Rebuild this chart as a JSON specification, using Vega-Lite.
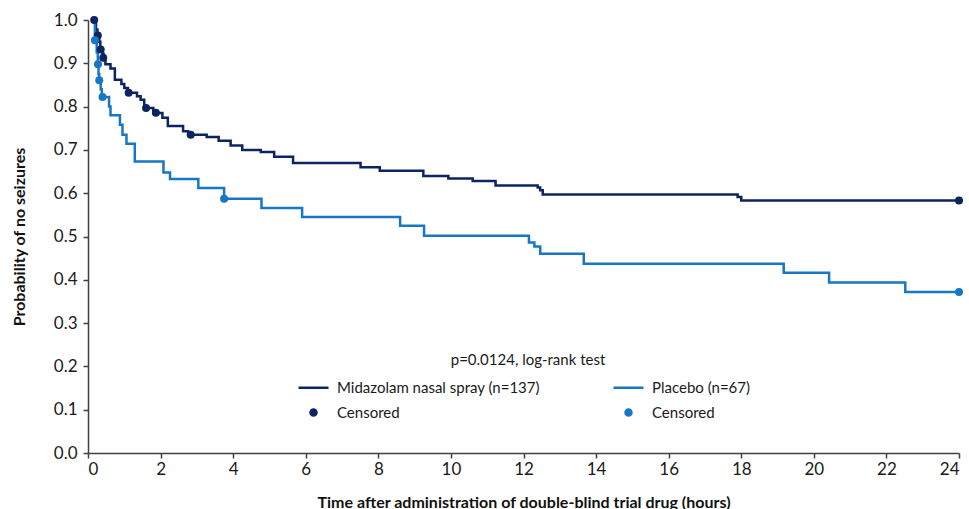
{
  "$schema": "https://vega.github.io/schema/vega-lite/v6.json",
  "width": 871,
  "height": 433,
  "autosize": "none",
  "padding": {"left": 88, "top": 20, "right": 10, "bottom": 56},
  "background": "white",
  "config": {
    "font": "Lato",
    "view": {"stroke": null},
    "axis": {"grid": false, "domainColor": "#404040", "domainWidth": 1.5, "tickColor": "#404040", "tickWidth": 1.5, "tickSize": 5, "labelFont": "Lato", "labelFontSize": 17, "labelColor": "#1a1a1a", "titleFont": "Lato", "titleFontSize": 16, "titleFontWeight": "bold", "titleColor": "#111111"}
  },
  "data": {"values": [
    {"key": "Midazolam nasal spray (n=137)", "kind": "step", "t": 0.15, "s": 1.0},
    {"key": "Midazolam nasal spray (n=137)", "kind": "step", "t": 0.22, "s": 0.978},
    {"key": "Midazolam nasal spray (n=137)", "kind": "step", "t": 0.26, "s": 0.964},
    {"key": "Midazolam nasal spray (n=137)", "kind": "step", "t": 0.31, "s": 0.95},
    {"key": "Midazolam nasal spray (n=137)", "kind": "step", "t": 0.34, "s": 0.934},
    {"key": "Midazolam nasal spray (n=137)", "kind": "step", "t": 0.4, "s": 0.922},
    {"key": "Midazolam nasal spray (n=137)", "kind": "step", "t": 0.43, "s": 0.912},
    {"key": "Midazolam nasal spray (n=137)", "kind": "step", "t": 0.48, "s": 0.898},
    {"key": "Midazolam nasal spray (n=137)", "kind": "step", "t": 0.62, "s": 0.888},
    {"key": "Midazolam nasal spray (n=137)", "kind": "step", "t": 0.74, "s": 0.862},
    {"key": "Midazolam nasal spray (n=137)", "kind": "step", "t": 0.92, "s": 0.852},
    {"key": "Midazolam nasal spray (n=137)", "kind": "step", "t": 1.0, "s": 0.843},
    {"key": "Midazolam nasal spray (n=137)", "kind": "step", "t": 1.1, "s": 0.832},
    {"key": "Midazolam nasal spray (n=137)", "kind": "step", "t": 1.35, "s": 0.824},
    {"key": "Midazolam nasal spray (n=137)", "kind": "step", "t": 1.45, "s": 0.816},
    {"key": "Midazolam nasal spray (n=137)", "kind": "step", "t": 1.55, "s": 0.797},
    {"key": "Midazolam nasal spray (n=137)", "kind": "step", "t": 1.8, "s": 0.785},
    {"key": "Midazolam nasal spray (n=137)", "kind": "step", "t": 2.05, "s": 0.774},
    {"key": "Midazolam nasal spray (n=137)", "kind": "step", "t": 2.2, "s": 0.755},
    {"key": "Midazolam nasal spray (n=137)", "kind": "step", "t": 2.62, "s": 0.743},
    {"key": "Midazolam nasal spray (n=137)", "kind": "step", "t": 2.76, "s": 0.735},
    {"key": "Midazolam nasal spray (n=137)", "kind": "step", "t": 3.27, "s": 0.73},
    {"key": "Midazolam nasal spray (n=137)", "kind": "step", "t": 3.6, "s": 0.721},
    {"key": "Midazolam nasal spray (n=137)", "kind": "step", "t": 3.93, "s": 0.71},
    {"key": "Midazolam nasal spray (n=137)", "kind": "step", "t": 4.25, "s": 0.7},
    {"key": "Midazolam nasal spray (n=137)", "kind": "step", "t": 4.76, "s": 0.695},
    {"key": "Midazolam nasal spray (n=137)", "kind": "step", "t": 5.13, "s": 0.684},
    {"key": "Midazolam nasal spray (n=137)", "kind": "step", "t": 5.65, "s": 0.67},
    {"key": "Midazolam nasal spray (n=137)", "kind": "step", "t": 7.51, "s": 0.66},
    {"key": "Midazolam nasal spray (n=137)", "kind": "step", "t": 8.04, "s": 0.652},
    {"key": "Midazolam nasal spray (n=137)", "kind": "step", "t": 9.24, "s": 0.64},
    {"key": "Midazolam nasal spray (n=137)", "kind": "step", "t": 9.93, "s": 0.634},
    {"key": "Midazolam nasal spray (n=137)", "kind": "step", "t": 10.6, "s": 0.628},
    {"key": "Midazolam nasal spray (n=137)", "kind": "step", "t": 11.23, "s": 0.618},
    {"key": "Midazolam nasal spray (n=137)", "kind": "step", "t": 12.39, "s": 0.613},
    {"key": "Midazolam nasal spray (n=137)", "kind": "step", "t": 12.46, "s": 0.607},
    {"key": "Midazolam nasal spray (n=137)", "kind": "step", "t": 12.53, "s": 0.597},
    {"key": "Midazolam nasal spray (n=137)", "kind": "step", "t": 17.9, "s": 0.591},
    {"key": "Midazolam nasal spray (n=137)", "kind": "step", "t": 18.0, "s": 0.583},
    {"key": "Midazolam nasal spray (n=137)", "kind": "step", "t": 24.0, "s": 0.583},
    {"key": "Placebo (n=67)", "kind": "step", "t": 0.15, "s": 1.0},
    {"key": "Placebo (n=67)", "kind": "step", "t": 0.19, "s": 0.953},
    {"key": "Placebo (n=67)", "kind": "step", "t": 0.24, "s": 0.925},
    {"key": "Placebo (n=67)", "kind": "step", "t": 0.27, "s": 0.898},
    {"key": "Placebo (n=67)", "kind": "step", "t": 0.29, "s": 0.875},
    {"key": "Placebo (n=67)", "kind": "step", "t": 0.31, "s": 0.861},
    {"key": "Placebo (n=67)", "kind": "step", "t": 0.35, "s": 0.84},
    {"key": "Placebo (n=67)", "kind": "step", "t": 0.38, "s": 0.822},
    {"key": "Placebo (n=67)", "kind": "step", "t": 0.58, "s": 0.8},
    {"key": "Placebo (n=67)", "kind": "step", "t": 0.62, "s": 0.78},
    {"key": "Placebo (n=67)", "kind": "step", "t": 0.88, "s": 0.758},
    {"key": "Placebo (n=67)", "kind": "step", "t": 0.95, "s": 0.735},
    {"key": "Placebo (n=67)", "kind": "step", "t": 1.06, "s": 0.714},
    {"key": "Placebo (n=67)", "kind": "step", "t": 1.29, "s": 0.673},
    {"key": "Placebo (n=67)", "kind": "step", "t": 2.08, "s": 0.648},
    {"key": "Placebo (n=67)", "kind": "step", "t": 2.26, "s": 0.633},
    {"key": "Placebo (n=67)", "kind": "step", "t": 3.04, "s": 0.612},
    {"key": "Placebo (n=67)", "kind": "step", "t": 3.75, "s": 0.587},
    {"key": "Placebo (n=67)", "kind": "step", "t": 4.78, "s": 0.566},
    {"key": "Placebo (n=67)", "kind": "step", "t": 5.9, "s": 0.545},
    {"key": "Placebo (n=67)", "kind": "step", "t": 8.6, "s": 0.525},
    {"key": "Placebo (n=67)", "kind": "step", "t": 9.26, "s": 0.502},
    {"key": "Placebo (n=67)", "kind": "step", "t": 12.15, "s": 0.486},
    {"key": "Placebo (n=67)", "kind": "step", "t": 12.3, "s": 0.477},
    {"key": "Placebo (n=67)", "kind": "step", "t": 12.46, "s": 0.46},
    {"key": "Placebo (n=67)", "kind": "step", "t": 13.66, "s": 0.437},
    {"key": "Placebo (n=67)", "kind": "step", "t": 19.17, "s": 0.416},
    {"key": "Placebo (n=67)", "kind": "step", "t": 20.42, "s": 0.394},
    {"key": "Placebo (n=67)", "kind": "step", "t": 22.52, "s": 0.372},
    {"key": "Placebo (n=67)", "kind": "step", "t": 24.0, "s": 0.372},
    {"key": "Censored (Midazolam)", "kind": "censor", "t": 0.17, "s": 1.0},
    {"key": "Censored (Midazolam)", "kind": "censor", "t": 0.27, "s": 0.964},
    {"key": "Censored (Midazolam)", "kind": "censor", "t": 0.35, "s": 0.932},
    {"key": "Censored (Midazolam)", "kind": "censor", "t": 0.42, "s": 0.913},
    {"key": "Censored (Midazolam)", "kind": "censor", "t": 1.12, "s": 0.832},
    {"key": "Censored (Midazolam)", "kind": "censor", "t": 1.6, "s": 0.797},
    {"key": "Censored (Midazolam)", "kind": "censor", "t": 1.87, "s": 0.786},
    {"key": "Censored (Midazolam)", "kind": "censor", "t": 2.83, "s": 0.735},
    {"key": "Censored (Midazolam)", "kind": "censor", "t": 24.0, "s": 0.583},
    {"key": "Censored (Placebo)", "kind": "censor", "t": 0.19, "s": 0.953},
    {"key": "Censored (Placebo)", "kind": "censor", "t": 0.275, "s": 0.898},
    {"key": "Censored (Placebo)", "kind": "censor", "t": 0.31, "s": 0.861},
    {"key": "Censored (Placebo)", "kind": "censor", "t": 0.4, "s": 0.822},
    {"key": "Censored (Placebo)", "kind": "censor", "t": 3.75, "s": 0.587},
    {"key": "Censored (Placebo)", "kind": "censor", "t": 24.0, "s": 0.372}
  ]},
  "encoding": {
    "x": {"field": "t", "type": "quantitative", "scale": {"domain": [0, 24], "nice": false, "zero": true}, "axis": {"values": [0,2,4,6,8,10,12,14,16,18,20,22,24], "title": "Time after administration of double-blind trial drug (hours)", "labelPadding": 3, "titlePadding": 17}},
    "y": {"field": "s", "type": "quantitative", "scale": {"domain": [0, 1], "nice": false}, "axis": {"values": [0,0.1,0.2,0.3,0.4,0.5,0.6,0.7,0.8,0.9,1.0], "format": ".1f", "title": "Probability of no seizures", "labelPadding": 6, "titlePadding": 26}}
  },
  "layer": [
    {
      "transform": [{"filter": "datum.kind === 'step'"}],
      "mark": {"type": "line", "interpolate": "step-after", "strokeWidth": 2.5},
      "encoding": {
        "color": {"field": "key", "type": "nominal", "scale": {"domain": ["Midazolam nasal spray (n=137)", "Censored (Midazolam)", "Placebo (n=67)", "Censored (Placebo)"], "range": ["#0c2461", "#0c2461", "#1777c4", "#1777c4"]}, "legend": {
          "orient": "none", "legendX": 218, "legendY": 333, "columns": 2, "columnPadding": 68, "rowPadding": 8, "padding": 0,
          "title": "p=0.0124, log-rank test", "titleAnchor": "middle", "titleFontWeight": "normal", "titleFontSize": 15, "titleFont": "Lato", "titleColor": "#1a1a1a", "titlePadding": 12,
          "labelFont": "Lato", "labelFontSize": 15, "labelColor": "#1a1a1a", "labelOffset": 16, "labelLimit": 400, "symbolSize": 36, "symbolStrokeWidth": 2.5,
          "labelExpr": "indexof(datum.label,'Censored')==0 ? 'Censored' : datum.label",
          "encode": {"symbols": {"update": {"stroke": {"scale": "color", "field": "value"}}}}
        }}
      }
    },
    {
      "transform": [{"filter": "datum.kind === 'censor'"}],
      "mark": {"type": "point", "filled": true, "opacity": 1, "size": 64},
      "encoding": {
        "color": {"field": "key", "type": "nominal"},
        "shape": {"field": "key", "type": "nominal", "scale": {"domain": ["Midazolam nasal spray (n=137)", "Censored (Midazolam)", "Placebo (n=67)", "Censored (Placebo)"], "range": ["M-5,0H5", "circle", "M-5,0H5", "circle"]}}
      }
    }
  ]
}
